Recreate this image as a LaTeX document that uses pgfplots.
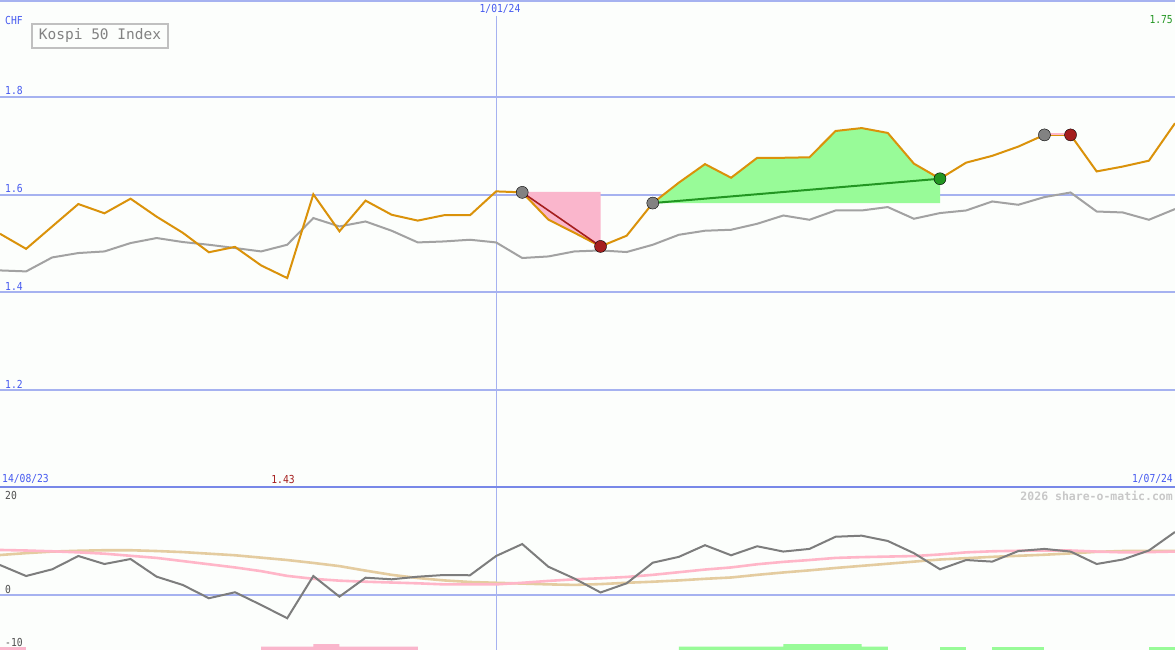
\documentclass[border=0pt]{standalone}
\usepackage{fontspec}
\usepackage{pgfplots}
\pgfplotsset{compat=1.18}
\newfontfamily\mono{DejaVu Sans Mono}
\newfontfamily\monoc[FakeStretch=0.88]{DejaVu Sans Mono}
\definecolor{bg}{RGB}{252,254,252}
\definecolor{gridblue}{RGB}{166,178,240}
\definecolor{sepblue}{RGB}{120,136,232}
\definecolor{labelblue}{RGB}{70,90,240}
\definecolor{orangeL}{RGB}{218,146,10}
\definecolor{grayL}{RGB}{162,162,162}
\definecolor{momL}{RGB}{125,125,125}
\definecolor{pinkL}{RGB}{255,182,200}
\definecolor{tanL}{RGB}{228,204,160}
\definecolor{pinkF}{RGB}{250,182,204}
\definecolor{greenF}{RGB}{152,251,152}
\definecolor{dgreen}{RGB}{34,150,34}
\definecolor{dred}{RGB}{165,30,30}
\definecolor{mgray}{RGB}{130,130,130}
\definecolor{lblgray}{RGB}{80,80,80}
\definecolor{boxgray}{RGB}{192,192,192}
\definecolor{wmgray}{RGB}{200,200,200}

\pgfplotstableread{
k v
0 1.520
1 1.489
2 1.535
3 1.581
4 1.562
5 1.592
6 1.555
7 1.522
8 1.482
9 1.493
10 1.455
11 1.429
12 1.601
13 1.525
14 1.588
15 1.559
16 1.547
17 1.558
18 1.558
19 1.607
20 1.605
21 1.549
22 1.522
23 1.494
24 1.516
25 1.583
26 1.625
27 1.663
28 1.635
29 1.676
30 1.676
31 1.677
32 1.731
33 1.737
34 1.727
35 1.664
36 1.633
37 1.666
38 1.680
39 1.699
40 1.723
41 1.723
42 1.648
43 1.658
44 1.670
45 1.747
}\price

\pgfplotstableread{
k v
0 1.4447
1 1.4427
2 1.4714
3 1.4804
4 1.4837
5 1.5009
6 1.5112
7 1.5030
8 1.4974
9 1.4907
10 1.4837
11 1.4974
12 1.5522
13 1.5350
14 1.5452
15 1.5262
16 1.5022
17 1.5042
18 1.5077
19 1.5022
20 1.4702
21 1.4734
22 1.4837
23 1.4857
24 1.4825
25 1.4974
26 1.5179
27 1.5262
28 1.5282
29 1.5405
30 1.5575
31 1.5487
32 1.5678
33 1.5678
34 1.5748
35 1.5508
36 1.5625
37 1.5678
38 1.5863
39 1.5795
40 1.5953
41 1.6047
42 1.5657
43 1.5637
44 1.5487
45 1.5707
}\bench

\pgfplotstableread{
k mom pink tan
0 5.66 8.5 7.55
1 3.58 8.4 7.9
2 4.85 8.25 8.2
3 7.36 8.05 8.35
4 5.85 7.8 8.45
5 6.79 7.4 8.45
6 3.45 7.0 8.3
7 1.89 6.4 8.1
8 -0.62 5.8 7.8
9 0.51 5.2 7.5
10 -1.89 4.5 7.05
11 -4.40 3.6 6.6
12 3.58 3.05 6.05
13 -0.32 2.7 5.45
14 3.26 2.5 4.6
15 2.96 2.35 3.8
16 3.45 2.2 3.2
17 3.77 2.0 2.75
18 3.72 2.0 2.45
19 7.36 2.0 2.3
20 9.62 2.3 2.15
21 5.34 2.65 2.0
22 3.1 2.95 1.9
23 0.47 3.15 2.05
24 2.2 3.4 2.3
25 6.1 3.8 2.5
26 7.2 4.3 2.75
27 9.4 4.8 3.05
28 7.5 5.2 3.3
29 9.2 5.8 3.8
30 8.2 6.25 4.25
31 8.7 6.6 4.65
32 11.0 7.0 5.1
33 11.2 7.15 5.5
34 10.2 7.25 5.9
35 7.9 7.35 6.3
36 4.85 7.65 6.7
37 6.6 8.05 6.95
38 6.3 8.25 7.2
39 8.3 8.35 7.4
40 8.7 8.4 7.6
41 8.2 8.4 7.85
42 5.85 8.2 8.15
43 6.7 8.05 8.3
44 8.4 8.1 8.3
45 11.9 8.2 8.3
}\osc

\begin{document}
\begin{tikzpicture}[x=1pt,y=1pt]
\useasboundingbox (0,0) rectangle (1175,650);
\fill[bg] (0,0) rectangle (1175,650);

% upper panel
\begin{axis}[
  at={(0pt,163pt)}, anchor=south west,
  scale only axis, width=1175pt, height=487pt,
  axis lines=none, xmin=0, xmax=45, ymin=1, ymax=2,
  clip=true]
  \draw[gridblue, line width=2pt] (axis cs:0,1.2) -- (axis cs:45,1.2);
  \draw[gridblue, line width=2pt] (axis cs:0,1.4) -- (axis cs:45,1.4);
  \draw[gridblue, line width=2pt] (axis cs:0,1.6) -- (axis cs:45,1.6);
  \draw[gridblue, line width=2pt] (axis cs:0,1.8) -- (axis cs:45,1.8);
  \draw[gridblue, line width=1pt] (axis cs:19,1.0) -- (axis cs:19,1.967);
  % shaded signal areas
  \addplot[fill=pinkF, draw=none] coordinates {(20,1.606)(20,1.605)(21,1.549)(22,1.522)(23,1.494)(23,1.606)};
  \addplot[fill=greenF, draw=none] coordinates {(25,1.583)(26,1.625)(27,1.663)(28,1.635)(29,1.676)(30,1.676)(31,1.677)(32,1.731)(33,1.737)(34,1.727)(35,1.664)(36,1.633)(36,1.583)};
  \addplot[grayL, line width=2pt] table[x=k,y=v] {\bench};
  \addplot[orangeL, line width=2pt] table[x=k,y=v] {\price};
  \addplot[dred, line width=1.6pt] coordinates {(20,1.605)(23,1.494)};
  \addplot[dgreen, line width=2pt] coordinates {(25,1.583)(36,1.633)};
  \addplot[pinkL, line width=1.5pt] coordinates {(40,1.725)(41,1.725)};
  \addplot[only marks, mark=*, mark size=6pt, mark options={fill=mgray, draw=none}] coordinates {(20,1.605)(25,1.583)(40,1.723)};
  \addplot[only marks, mark=*, mark size=6pt, mark options={fill=dred, draw=none}] coordinates {(23,1.494)(41,1.723)};
  \addplot[only marks, mark=*, mark size=6pt, mark options={fill=dgreen, draw=none}] coordinates {(36,1.633)};
\end{axis}

% lower panel
\begin{axis}[
  at={(0pt,0pt)}, anchor=south west,
  scale only axis, width=1175pt, height=163pt,
  axis lines=none, xmin=0, xmax=45, ymin=-10.4, ymax=20.4,
  clip=true]
  \draw[gridblue, line width=2pt] (axis cs:0,0) -- (axis cs:45,0);
  \draw[gridblue, line width=1pt] (axis cs:19,-10.4) -- (axis cs:19,20.4);
  \addplot[fill=pinkF, draw=none] coordinates {(0,-10.4)(0,-9.78)(1,-9.78)(1,-10.4)};
  \addplot[fill=pinkF, draw=none] coordinates {(10,-10.4)(10,-9.78)(12,-9.78)(12,-9.27)(13,-9.27)(13,-9.78)(16,-9.78)(16,-10.4)};
  \addplot[fill=greenF, draw=none] coordinates {(26,-10.4)(26,-9.78)(30,-9.78)(30,-9.27)(33,-9.27)(33,-9.78)(34,-9.78)(34,-10.4)};
  \addplot[fill=greenF, draw=none] coordinates {(36,-10.4)(36,-9.78)(37,-9.78)(37,-10.4)};
  \addplot[fill=greenF, draw=none] coordinates {(38,-10.4)(38,-9.78)(40,-9.78)(40,-10.4)};
  \addplot[fill=greenF, draw=none] coordinates {(44,-10.4)(44,-9.78)(45,-9.78)(45,-10.4)};
  \addplot[tanL, line width=2.6pt] table[x=k,y=tan] {\osc};
  \addplot[pinkL, line width=2.6pt] table[x=k,y=pink] {\osc};
  \addplot[momL, line width=2pt] table[x=k,y=mom] {\osc};
\end{axis}

% frame lines
\draw[gridblue, line width=2pt] (0,649) -- (1175,649);
\draw[sepblue, line width=2.2pt] (0,163) -- (1175,163);

% labels
\begin{scope}[every node/.style={inner sep=0pt, font=\monoc\fontsize{11}{13}\selectfont}]
\node[anchor=west, text=labelblue] at (5,629) {CHF};
\node[anchor=west, text=labelblue] at (5,559) {1.8};
\node[anchor=west, text=labelblue] at (5,461) {1.6};
\node[anchor=west, text=labelblue] at (5,364) {1.4};
\node[anchor=west, text=labelblue] at (5,266) {1.2};
\node[text=labelblue] at (500,641) {1/01/24};
\node[anchor=east, text=dgreen] at (1173,630) {1.75};
\node[anchor=west, text=labelblue] at (2,171) {14/08/23};
\node[text=dred] at (283,171) {1.43};
\node[anchor=east, text=labelblue] at (1173,171) {1/07/24};
\node[anchor=west, text=lblgray] at (5,155) {20};
\node[anchor=west, text=lblgray] at (5,61) {0};
\node[anchor=west, text=lblgray] at (5,8) {-10};
\node[anchor=east, text=wmgray, font=\mono\bfseries\fontsize{11.5}{13}\selectfont] at (1173,154) {2026 share-o-matic.com};
\end{scope}
\draw[boxgray, line width=2pt, fill=bg] (32,626) rectangle (168,602);
\node[inner sep=0pt, text=mgray, font=\mono\fontsize{14.5}{16}\selectfont] at (100,614) {Kospi 50 Index};
\end{tikzpicture}
\end{document}
